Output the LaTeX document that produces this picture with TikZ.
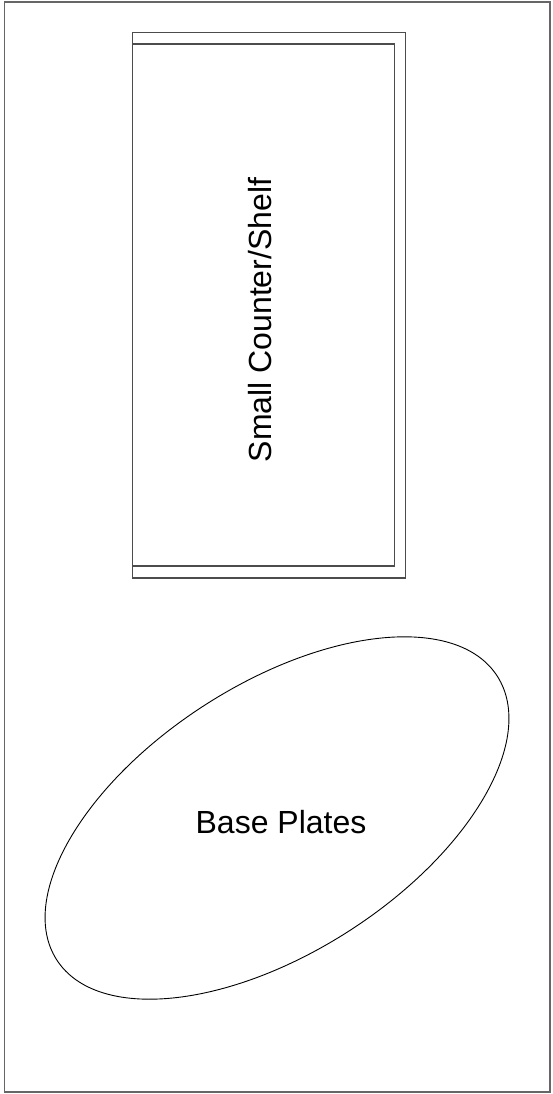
\documentclass[tikz,border=0pt]{standalone}
\usepackage{fontspec}
\setmainfont{Liberation Sans}
\usetikzlibrary{shapes.geometric}
\begin{document}
\begin{tikzpicture}[x=1pt,y=-1pt,
  frame/.style={draw=black!60,line width=1.3pt},
  shelfline/.style={draw=black!70,line width=1.2pt},
  plate/.style={draw=black,line width=0.9pt,ellipse,minimum width=524pt,minimum height=268pt,inner sep=0pt},
  lbl/.style={font=\fontsize{32}{38}\selectfont,inner sep=0pt}]
\useasboundingbox (0,0) rectangle (552,1094);
\draw[frame] (4.5,2) rectangle (550,1092);
\draw[shelfline] (132.5,32.5) rectangle (405.5,578);
\draw[shelfline] (132.5,44) rectangle (394.5,566);
\node[lbl,rotate=90,anchor=base] (shelf) at (271,320) {Small Counter/Shelf};
\node[plate,rotate=32.8] (plates) at (277,818) {};
\node[lbl,anchor=base] (platestxt) at (281,833) {Base Plates};
\end{tikzpicture}
\end{document}
